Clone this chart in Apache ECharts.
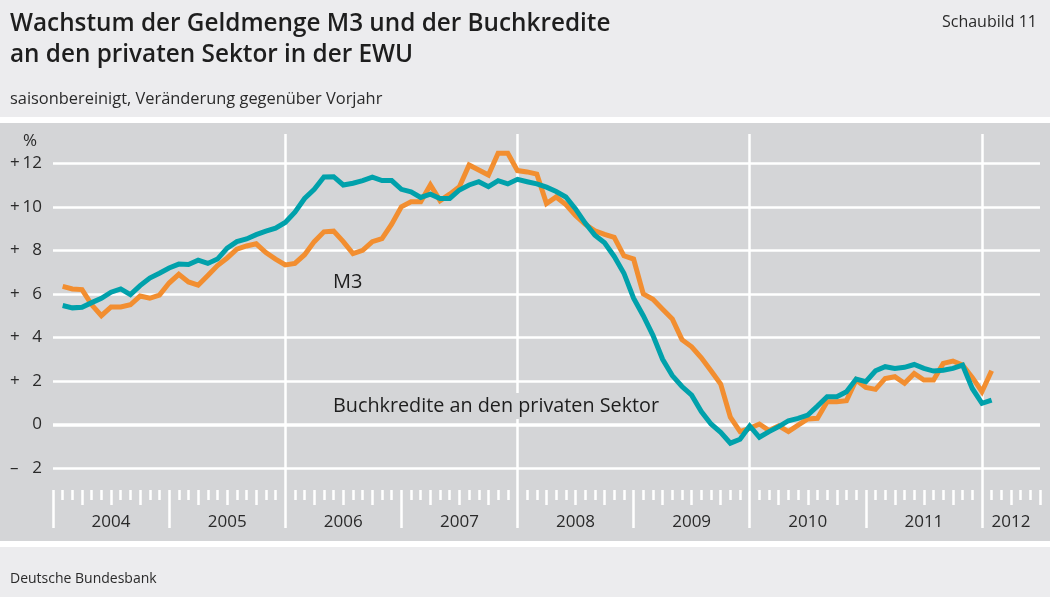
<!DOCTYPE html>
<html><head><meta charset="utf-8">
<script src="https://cdn.jsdelivr.net/npm/echarts@6/dist/echarts.min.js"></script>
<style>html,body{margin:0;padding:0;background:#fff}#c{width:1050px;height:597px}</style>
</head><body><div id="c"></div>
<script>
// ---- data ----
const startYear = 2004; // first observation: Jan 2004 (plotted at month end)
const yearLabels = ['2004','2005','2006','2007','2008','2009','2010','2011','2012'];
const yTicks = [-2, 0, 2, 4, 6, 8, 10, 12];
const m3 = [6.35, 6.23, 6.2, 5.5, 5.0, 5.4, 5.4, 5.5, 5.9, 5.8, 5.95, 6.5, 6.9, 6.55, 6.4, 6.85, 7.3,
  7.65, 8.05, 8.2, 8.3, 7.9, 7.6, 7.33, 7.4, 7.8, 8.4, 8.85, 8.88, 8.4, 7.85, 8.0, 8.4,
  8.54, 9.2, 10.0, 10.23, 10.23, 11.0, 10.28, 10.58, 10.92, 11.92, 11.69, 11.46, 12.46, 12.46, 11.66,
  11.6, 11.5, 10.15, 10.45, 10.1, 9.6, 9.2, 8.9, 8.73, 8.6, 7.75, 7.6,
  6.0, 5.75, 5.3, 4.85, 3.9, 3.57, 3.07, 2.47, 1.86, 0.34, -0.32, -0.17,
  0.03, -0.27, -0.06, -0.32, -0.02, 0.26, 0.29, 1.05, 1.05, 1.1, 2.05, 1.71,
  1.62, 2.12, 2.2, 1.9, 2.35, 2.05, 2.05, 2.81, 2.92, 2.73, 2.17, 1.51, 2.47];
const kredite = [5.47, 5.36, 5.39, 5.6, 5.8, 6.08, 6.23, 5.97, 6.38, 6.73, 6.95, 7.19, 7.37, 7.35, 7.55, 7.4, 7.6,
  8.1, 8.4, 8.52, 8.72, 8.88, 9.02, 9.28, 9.75, 10.38, 10.8, 11.37, 11.38, 11.0, 11.08, 11.2, 11.36,
  11.2, 11.2, 10.8, 10.69, 10.43, 10.58, 10.38, 10.38, 10.77, 11.0, 11.15, 10.92, 11.2, 11.05, 11.26,
  11.15, 11.05, 10.9, 10.7, 10.45, 9.9, 9.25, 8.7, 8.35, 7.72, 6.95, 5.8,
  5.0, 4.1, 3.0, 2.25, 1.75, 1.35, 0.6, 0.03, -0.35, -0.85, -0.67, -0.06,
  -0.58, -0.32, -0.09, 0.18, 0.29, 0.44, 0.85, 1.28, 1.28, 1.51, 2.09, 1.97,
  2.47, 2.66, 2.58, 2.63, 2.76, 2.58, 2.46, 2.5, 2.58, 2.73, 1.66, 0.98, 1.13];

// ---- layout / styles ----
const FONT = '"Open Sans", "Noto Sans", sans-serif';
const PLOT_BG = '#d4d5d7';
const HEAD_BG = '#ececee';
const TXT = '#2a2a2a';
const ORANGE = '#f28e30';
const TEAL = '#00a1ab';
const XMAX = 102; // months from Jan 2004 to Jul 2012

const toPairs = arr => arr.map((v, i) => [i + 1, v]);
const yearTicks = yearLabels.map((_, k) => k * 12);
const quarterTicks = [], monthTicks = [];
for (let m = 1; m <= XMAX; m++) {
  if (m % 12 === 0) continue;
  if (m % 3 === 0) quarterTicks.push(m); else monthTicks.push(m);
}
const labelPos = yearLabels.map((_, k) => Math.min(k * 12 + 6, (k * 12 + XMAX) / 2));

function yFmt(v) {
  if (yTicks.indexOf(v) < 0) return '';
  if (v === 0) return '{n|0}';
  return '{s|' + (v > 0 ? '+' : '\u2013') + '}{n|' + Math.abs(v) + '}';
}

const tickAxis = (vals, len, extra) => Object.assign({
  type: 'value', gridIndex: 0, min: 0, max: XMAX, position: 'bottom',
  axisLine: { show: false }, splitLine: { show: false },
  axisTick: { show: true, customValues: vals, length: len, inside: false, lineStyle: { color: '#fff', width: 2.5 } },
  axisLabel: { show: false }
}, extra || {});

const chart = echarts.init(document.getElementById('c'), null, { renderer: 'canvas' });
chart.setOption({
  backgroundColor: PLOT_BG,
  animation: false,
  grid: { left: 53, top: 134, width: 987, height: 356, containLabel: false },
  xAxis: [
    { type: 'value', gridIndex: 0, min: 0, max: XMAX, interval: 24,
      axisLine: { show: false }, axisTick: { show: false }, axisLabel: { show: false },
      splitLine: { show: true, showMinLine: false, showMaxLine: false, lineStyle: { color: '#fff', width: 2.5 } } },
    tickAxis(yearTicks, 38),
    tickAxis(quarterTicks, 15, {
      axisLabel: { show: true, customValues: labelPos, margin: 24, fontSize: 17, fontFamily: FONT, color: TXT,
        formatter: v => yearLabels[Math.floor(v / 12)] }
    }),
    tickAxis(monthTicks, 10)
  ],
  yAxis: [{
    type: 'value', gridIndex: 0, min: -3, max: 13.34, interval: 1,
    axisLine: { show: false }, axisTick: { show: false }, splitLine: { show: false },
    axisLabel: { show: true, margin: 11, showMaxLabel: false, showMinLabel: false, formatter: yFmt,
      color: TXT, fontSize: 17, fontFamily: FONT,
      rich: { s: { width: 11, align: 'left', fontSize: 17, fontFamily: FONT, color: TXT },
              n: { width: 21, align: 'right', fontSize: 17, fontFamily: FONT, color: TXT } } }
  }],
  series: [
    { type: 'line', name: 'grid', data: [], z: 1,
      markLine: { z: 1, silent: true, symbol: ['none', 'none'], label: { show: false }, animation: false,
        data: yTicks.map(v => ({ yAxis: v, lineStyle: { color: '#fff', type: 'solid', width: v === 0 ? 3.5 : 2.5 } })) } },
    { type: 'line', name: 'M3', data: toPairs(m3), showSymbol: false, z: 3,
      lineStyle: { color: ORANGE, width: 5, join: 'miter' }, itemStyle: { color: ORANGE } },
    { type: 'line', name: 'Buchkredite', data: toPairs(kredite), showSymbol: false, z: 4,
      lineStyle: { color: TEAL, width: 5, join: 'miter' }, itemStyle: { color: TEAL } }
  ],
  graphic: [
    { type: 'rect', z: 0, shape: { x: 0, y: 0, width: 1050, height: 117 }, style: { fill: HEAD_BG } },
    { type: 'rect', z: 0, shape: { x: 0, y: 117, width: 1050, height: 6 }, style: { fill: '#fff' } },
    { type: 'rect', z: 0, shape: { x: 0, y: 541, width: 1050, height: 6 }, style: { fill: '#fff' } },
    { type: 'rect', z: 0, shape: { x: 0, y: 547, width: 1050, height: 50 }, style: { fill: HEAD_BG } },
    { type: 'text', z: 10, x: 10, y: 24, style: { text: 'Wachstum der Geldmenge M3 und der Buchkredite', font: '600 24.3px ' + FONT, fill: '#1e1e1e', verticalAlign: 'middle' } },
    { type: 'text', z: 10, x: 10, y: 55, style: { text: 'an den privaten Sektor in der EWU', font: '600 24.3px ' + FONT, fill: '#1e1e1e', verticalAlign: 'middle' } },
    { type: 'text', z: 10, x: 1037, y: 22, style: { text: 'Schaubild 11', font: '16px ' + FONT, fill: TXT, align: 'right', verticalAlign: 'middle' } },
    { type: 'text', z: 10, x: 10, y: 99, style: { text: 'saisonbereinigt, Veränderung gegenüber Vorjahr', font: '16.4px ' + FONT, fill: TXT, verticalAlign: 'middle' } },
    { type: 'text', z: 10, x: 10, y: 579, style: { text: 'Deutsche Bundesbank', font: '14px ' + FONT, fill: TXT, verticalAlign: 'middle' } },
    { type: 'text', z: 10, x: 30, y: 141, style: { text: '%', font: '17px ' + FONT, fill: TXT, align: 'center', verticalAlign: 'middle' } },
    { type: 'text', z: 10, x: 333, y: 282, style: { text: 'M3', font: '500 20px ' + FONT, fill: '#1e1e1e', verticalAlign: 'middle' } },
    { type: 'text', z: 10, x: 333, y: 406, style: { text: 'Buchkredite an den privaten Sektor', font: '500 19.8px ' + FONT, fill: '#1e1e1e', verticalAlign: 'middle', backgroundColor: PLOT_BG, padding: [3, 3, 3, 0] } }
  ]
});
</script></body></html>
